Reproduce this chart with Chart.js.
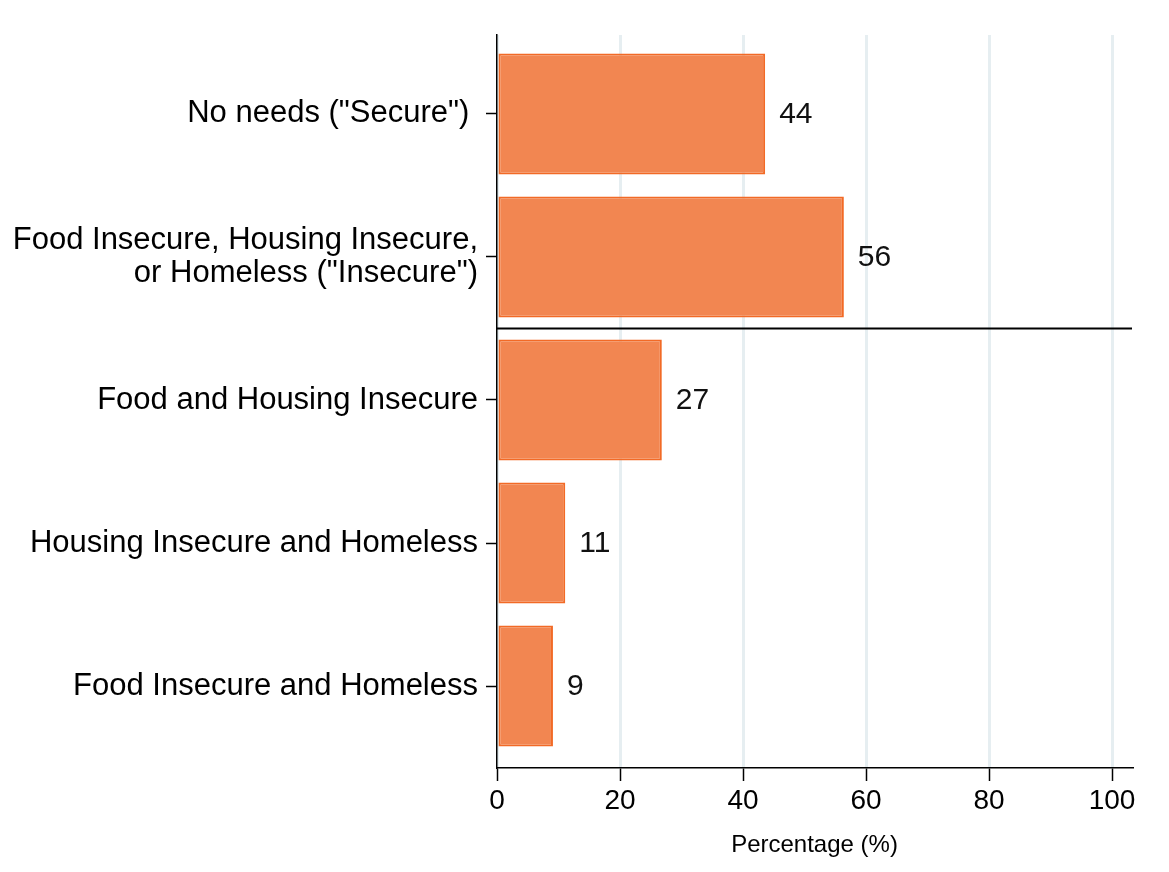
<!DOCTYPE html>
<html>
<head>
<meta charset="utf-8">
<script src="https://cdn.jsdelivr.net/npm/chart.js@4"></script>
<style>
  html, body { margin: 0; padding: 0; background: #fff; }
</style>
</head>
<body>
<canvas id="chart" width="1169" height="872"></canvas>
<script>
const categories = [
  'No needs ("Secure") ',
  ["Food Insecure, Housing Insecure,", 'or Homeless ("Insecure")'],
  "Food and Housing Insecure",
  "Housing Insecure and Homeless",
  "Food Insecure and Homeless",
];
const percentages = [43.6, 56.4, 26.8, 11.1, 9.1];
const xTicks = [0, 20, 40, 60, 80, 100];

const font = '"Liberation Sans", Arial, Helvetica, sans-serif';

// bars are placed on a linear y scale so the axis can run past the first/last bar
const points = percentages.map((v, i) => ({ x: v, y: i }));

const valueLabels = {
  id: "valueLabels",
  afterDatasetsDraw(chart) {
    const ctx = chart.ctx;
    const xs = chart.scales.x;
    const ys = chart.scales.y;
    ctx.save();
    ctx.font = "30px " + font;
    ctx.fillStyle = "#111";
    ctx.textAlign = "left";
    ctx.textBaseline = "middle";
    points.forEach((p) => {
      ctx.fillText(Math.round(p.x), xs.getPixelForValue(p.x) + 14, ys.getPixelForValue(p.y) + 1);
    });
    // separator between the summary rows and the breakdown
    const yLine = ys.getPixelForValue(1.5);
    ctx.strokeStyle = "#000";
    ctx.lineWidth = 2;
    ctx.beginPath();
    ctx.moveTo(chart.chartArea.left, yLine);
    ctx.lineTo(chart.chartArea.right, yLine);
    ctx.stroke();
    ctx.restore();
  },
};

const whiteBg = {
  id: "whiteBg",
  beforeDraw(chart) {
    const ctx = chart.ctx;
    ctx.save();
    ctx.fillStyle = "#fff";
    ctx.fillRect(0, 0, chart.width, chart.height);
    ctx.restore();
  },
};

const config = {
  type: "bar",
  data: {
    datasets: [
      {
        data: points,
        backgroundColor: "#F28651",
        borderColor: "#F26A26",
        borderWidth: 2,
        borderSkipped: false,
        barPercentage: 0.845,
        categoryPercentage: 1,
      },
    ],
  },
  options: {
    indexAxis: "y",
    responsive: false,
    animation: false,
    layout: { padding: { top: 35, right: 37, left: 0, bottom: 0 } },
    plugins: {
      legend: { display: false },
      tooltip: { enabled: false },
    },
    scales: {
      x: {
        type: "linear",
        min: 0,
        max: 103.25,
        afterBuildTicks(scale) {
          scale.ticks = xTicks.map((v) => ({ value: v }));
        },
        afterFit(scale) {
          scale.height = 104;
        },
        ticks: {
          color: "#000",
          font: { family: font, size: 28 },
          padding: 3,
        },
        grid: {
          color: "#E6EEF1",
          lineWidth: 3,
          tickColor: "#000",
          tickWidth: 1.5,
          tickLength: 13,
        },
        border: { display: true, color: "#000", width: 1.5 },
        title: {
          display: true,
          text: "Percentage (%)",
          color: "#000",
          font: { family: font, size: 24 },
          padding: { top: 4, bottom: 12 },
        },
      },
      y: {
        type: "linear",
        reverse: true,
        offset: false,
        min: -0.552,
        max: 4.573,
        afterBuildTicks(scale) {
          scale.ticks = categories.map((c, i) => ({ value: i }));
        },
        afterFit(scale) {
          scale.width = 497;
        },
        ticks: {
          color: "#000",
          font: { family: font, size: 31, lineHeight: 1.05 },
          padding: 8,
          callback: (v) => categories[v],
        },
        grid: {
          offset: false,
          drawOnChartArea: false,
          color: "#000",
          tickColor: "#000",
          tickWidth: 1.5,
          tickLength: 11,
        },
        border: { display: true, color: "#000", width: 1.5 },
      },
    },
  },
  plugins: [whiteBg, valueLabels],
};

const chartEl = document.querySelector("#chart");
let mychart = new Chart(chartEl, config);
</script>
</body>
</html>
